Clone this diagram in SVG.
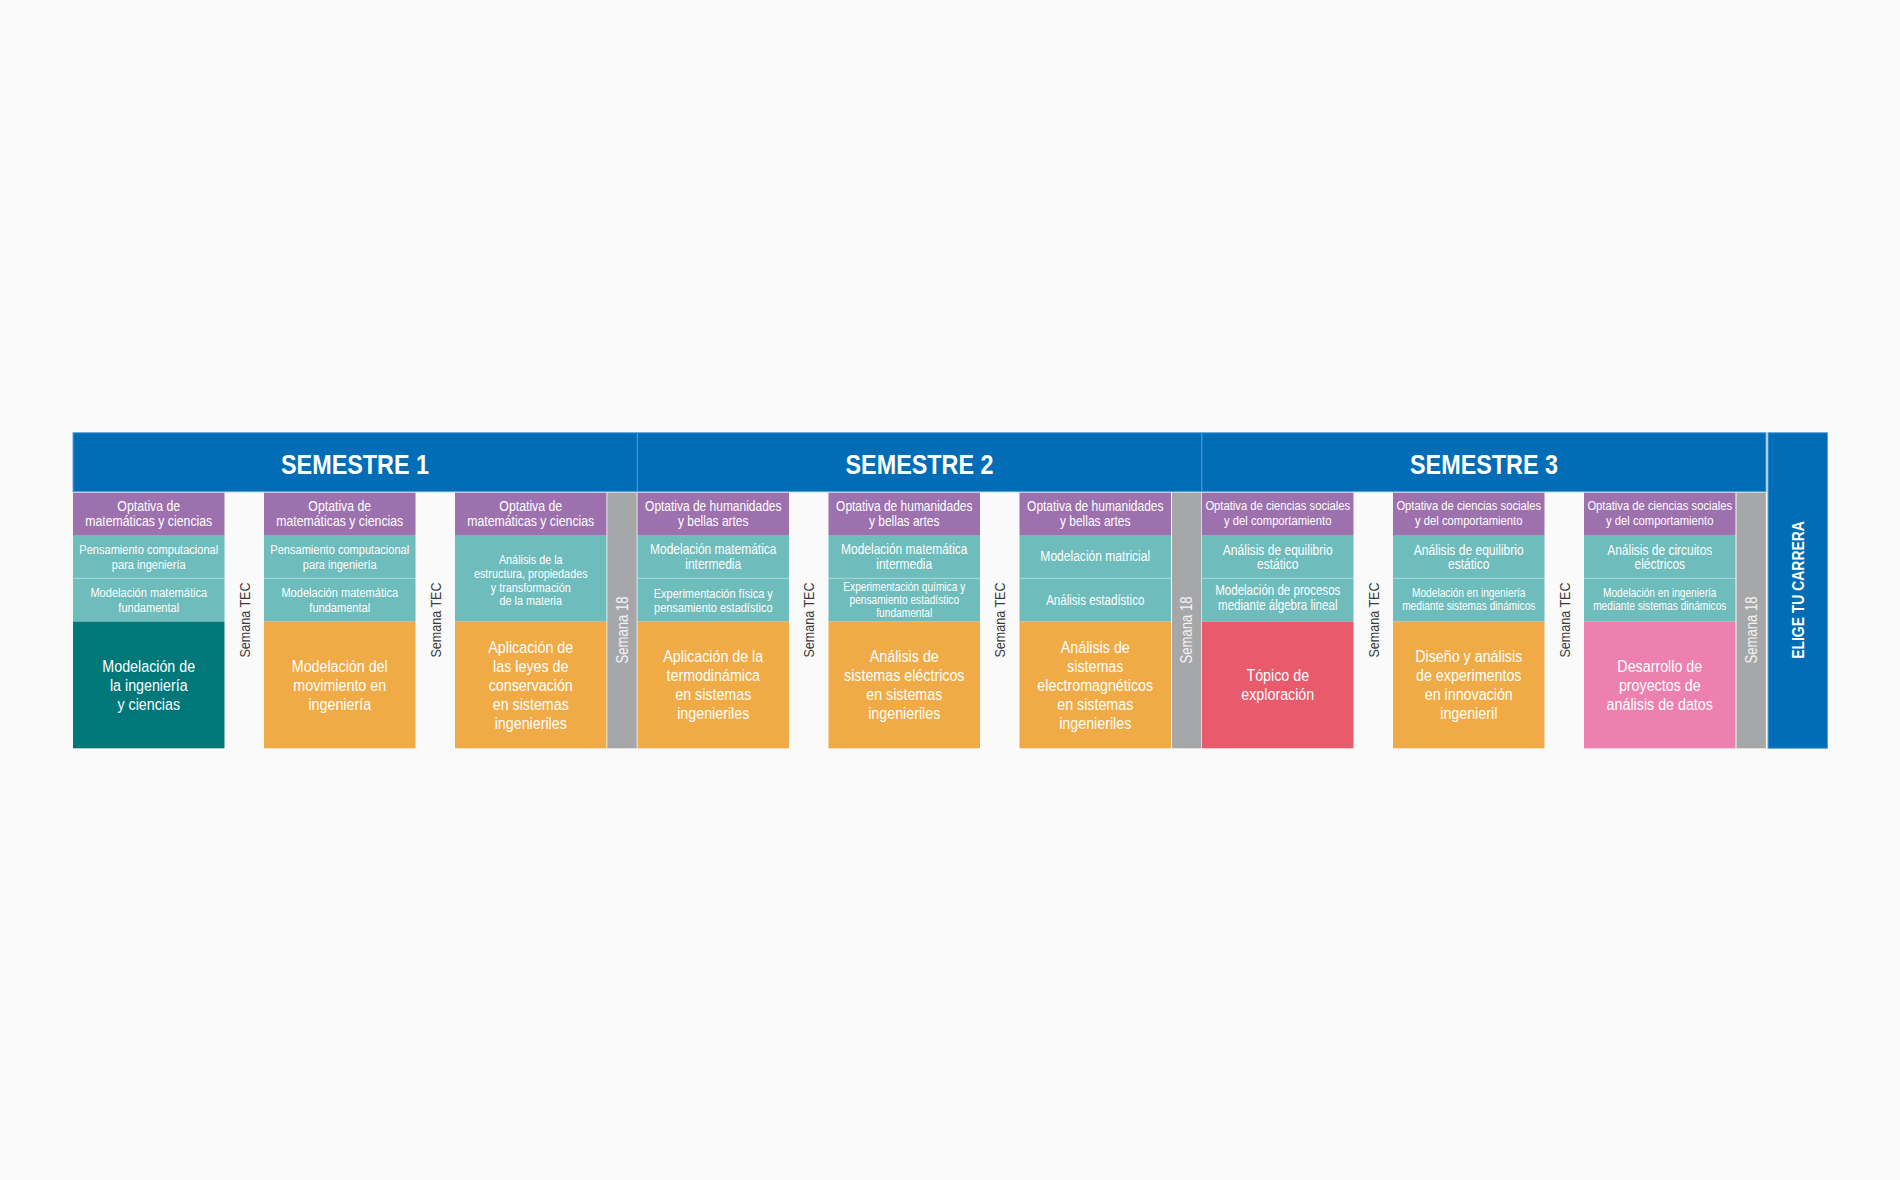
<svg xmlns="http://www.w3.org/2000/svg" width="1900" height="1180" viewBox="0 0 1900 1180">
<style>
text{font-family:'Liberation Sans',Arial,sans-serif;text-anchor:middle;fill:#ffffff}
.hd{font-weight:bold;font-size:28.5px}
.el{font-weight:bold;font-size:17px}
.pu{fill:#9d71ae}
.te{fill:#6ebcbc}
.or{fill:#f0ab46}
.dk{fill:#00787a}
.rd{fill:#e95a6d}
.pk{fill:#ee80b0}
.gy{fill:#a6a7a9}
.bl{fill:#006db6}
.sep{stroke:#ffffff;stroke-opacity:0.45;stroke-width:1}
.p15{font-size:15px}
.p146{font-size:14.6px}
.p137{font-size:13.7px}
.t135{font-size:13.5px}
.t132{font-size:13.2px}
.t146{font-size:14.6px}
.t134{font-size:13.4px}
.t124{font-size:12.4px}
.t148{font-size:14.7px}
.t141{font-size:14.1px}
.m{font-size:17.4px}
.tec{font-size:15.3px;fill:#3a3a3a}
.s18{font-size:16px;fill:#f4f4f4}
</style>
<rect x="0" y="0" width="1900" height="1180" fill="#fafafa"/>

<g id="headers">
<rect class="bl" x="73" y="432.7" width="1693" height="59" stroke="#5aa3d8" stroke-width="1"/>
<line x1="637.3" y1="432.7" x2="637.3" y2="491.7" stroke="#5aa3d8" stroke-width="1"/>
<line x1="1201.8" y1="432.7" x2="1201.8" y2="491.7" stroke="#5aa3d8" stroke-width="1"/>
<text class="hd" transform="matrix(.82 0 0 1 355 474)">SEMESTRE 1</text>
<text class="hd" transform="matrix(.82 0 0 1 919.5 474)">SEMESTRE 2</text>
<text class="hd" transform="matrix(.82 0 0 1 1484 474)">SEMESTRE 3</text>
</g>

<g id="elige">
<rect class="bl" x="1768" y="432.7" width="59.5" height="315.6" stroke="#5aa3d8" stroke-width="1"/>
<text class="el" transform="translate(1797.75,590) rotate(-90) scale(.82,1)" y="6.1">ELIGE TU CARRERA</text>
</g>

<g id="semana18">
<rect class="gy" x="607.3" y="492.7" width="29.4" height="255.6"/>
<rect class="gy" x="1172" y="492.7" width="29.4" height="255.6"/>
<rect class="gy" x="1736.5" y="492.7" width="29.4" height="255.6"/>
<text class="s18" transform="translate(622,630) rotate(-90) scale(.82,1)" y="5.7">Semana 18</text>
<text class="s18" transform="translate(1186.7,630) rotate(-90) scale(.82,1)" y="5.7">Semana 18</text>
<text class="s18" transform="translate(1751.2,630) rotate(-90) scale(.82,1)" y="5.7">Semana 18</text>
</g>

<g id="semanatec">
<text class="tec" transform="translate(244.5,620) rotate(-90) scale(.82,1)" y="5">Semana TEC</text>
<text class="tec" transform="translate(435.5,620) rotate(-90) scale(.82,1)" y="5">Semana TEC</text>
<text class="tec" transform="translate(809,620) rotate(-90) scale(.82,1)" y="5">Semana TEC</text>
<text class="tec" transform="translate(1000,620) rotate(-90) scale(.82,1)" y="5">Semana TEC</text>
<text class="tec" transform="translate(1373.5,620) rotate(-90) scale(.82,1)" y="5">Semana TEC</text>
<text class="tec" transform="translate(1564.5,620) rotate(-90) scale(.82,1)" y="5">Semana TEC</text>
</g>

<g id="col1">
<rect class="pu" x="73" y="492.7" width="151.5" height="42.3"/>
<rect class="te" x="73" y="535" width="151.5" height="86.6"/>
<rect class="dk" x="73" y="621.6" width="151.5" height="126.7"/>
<line class="sep" x1="73" y1="578.3" x2="224.5" y2="578.3"/>
<g transform="matrix(.82 0 0 1 148.75 0)">
<text class="p15"><tspan x="0" y="511">Optativa de</tspan><tspan x="0" y="526.5">matemáticas y ciencias</tspan></text>
<text class="t135"><tspan x="0" y="554.5">Pensamiento computacional</tspan><tspan x="0" y="568.8">para ingeniería</tspan></text>
<text class="t135"><tspan x="0" y="597.5">Modelación matemática</tspan><tspan x="0" y="611.7">fundamental</tspan></text>
<text class="m"><tspan x="0" y="672">Modelación de</tspan><tspan x="0" y="691">la ingeniería</tspan><tspan x="0" y="710">y ciencias</tspan></text>
</g>
</g>

<g id="col2">
<rect class="pu" x="264" y="492.7" width="151.5" height="42.3"/>
<rect class="te" x="264" y="535" width="151.5" height="86.6"/>
<rect class="or" x="264" y="621.6" width="151.5" height="126.7"/>
<line class="sep" x1="264" y1="578.3" x2="415.5" y2="578.3"/>
<g transform="matrix(.82 0 0 1 339.75 0)">
<text class="p15"><tspan x="0" y="511">Optativa de</tspan><tspan x="0" y="526.5">matemáticas y ciencias</tspan></text>
<text class="t135"><tspan x="0" y="554.5">Pensamiento computacional</tspan><tspan x="0" y="568.8">para ingeniería</tspan></text>
<text class="t135"><tspan x="0" y="597.5">Modelación matemática</tspan><tspan x="0" y="611.7">fundamental</tspan></text>
<text class="m"><tspan x="0" y="672">Modelación del</tspan><tspan x="0" y="691">movimiento en</tspan><tspan x="0" y="710">ingeniería</tspan></text>
</g>
</g>

<g id="col3">
<rect class="pu" x="455" y="492.7" width="151.5" height="42.3"/>
<rect class="te" x="455" y="535" width="151.5" height="86.6"/>
<rect class="or" x="455" y="621.6" width="151.5" height="126.7"/>
<g transform="matrix(.82 0 0 1 530.75 0)">
<text class="p15"><tspan x="0" y="511">Optativa de</tspan><tspan x="0" y="526.5">matemáticas y ciencias</tspan></text>
<text class="t132"><tspan x="0" y="564">Análisis de la</tspan><tspan x="0" y="577.8">estructura, propiedades</tspan><tspan x="0" y="591.6">y transformación</tspan><tspan x="0" y="605.4">de la materia</tspan></text>
<text class="m"><tspan x="0" y="653">Aplicación de</tspan><tspan x="0" y="672">las leyes de</tspan><tspan x="0" y="691">conservación</tspan><tspan x="0" y="710">en sistemas</tspan><tspan x="0" y="729">ingenieriles</tspan></text>
</g>
</g>

<g id="col4">
<rect class="pu" x="637.5" y="492.7" width="151.5" height="42.3"/>
<rect class="te" x="637.5" y="535" width="151.5" height="86.6"/>
<rect class="or" x="637.5" y="621.6" width="151.5" height="126.7"/>
<line class="sep" x1="637.5" y1="578.3" x2="789" y2="578.3"/>
<g transform="matrix(.82 0 0 1 713.25 0)">
<text class="p146"><tspan x="0" y="511">Optativa de humanidades</tspan><tspan x="0" y="526.5">y bellas artes</tspan></text>
<text class="t146"><tspan x="0" y="554.5">Modelación matemática</tspan><tspan x="0" y="568.8">intermedia</tspan></text>
<text class="t134"><tspan x="0" y="598">Experimentación física y</tspan><tspan x="0" y="612">pensamiento estadístico</tspan></text>
<text class="m"><tspan x="0" y="662.5">Aplicación de la</tspan><tspan x="0" y="681.5">termodinámica</tspan><tspan x="0" y="700.5">en sistemas</tspan><tspan x="0" y="719.5">ingenieriles</tspan></text>
</g>
</g>

<g id="col5">
<rect class="pu" x="828.5" y="492.7" width="151.5" height="42.3"/>
<rect class="te" x="828.5" y="535" width="151.5" height="86.6"/>
<rect class="or" x="828.5" y="621.6" width="151.5" height="126.7"/>
<line class="sep" x1="828.5" y1="578.3" x2="980" y2="578.3"/>
<g transform="matrix(.82 0 0 1 904.25 0)">
<text class="p146"><tspan x="0" y="511">Optativa de humanidades</tspan><tspan x="0" y="526.5">y bellas artes</tspan></text>
<text class="t146"><tspan x="0" y="554.5">Modelación matemática</tspan><tspan x="0" y="568.8">intermedia</tspan></text>
<text class="t124"><tspan x="0" y="591">Experimentación química y</tspan><tspan x="0" y="604">pensamiento estadístico</tspan><tspan x="0" y="617">fundamental</tspan></text>
<text class="m"><tspan x="0" y="662.5">Análisis de</tspan><tspan x="0" y="681.5">sistemas eléctricos</tspan><tspan x="0" y="700.5">en sistemas</tspan><tspan x="0" y="719.5">ingenieriles</tspan></text>
</g>
</g>

<g id="col6">
<rect class="pu" x="1019.5" y="492.7" width="151.5" height="42.3"/>
<rect class="te" x="1019.5" y="535" width="151.5" height="86.6"/>
<rect class="or" x="1019.5" y="621.6" width="151.5" height="126.7"/>
<line class="sep" x1="1019.5" y1="578.3" x2="1171" y2="578.3"/>
<g transform="matrix(.82 0 0 1 1095.25 0)">
<text class="p146"><tspan x="0" y="511">Optativa de humanidades</tspan><tspan x="0" y="526.5">y bellas artes</tspan></text>
<text class="t148" x="0" y="561.5">Modelación matricial</text>
<text class="t141" x="0" y="605">Análisis estadístico</text>
<text class="m"><tspan x="0" y="653">Análisis de</tspan><tspan x="0" y="672">sistemas</tspan><tspan x="0" y="691">electromagnéticos</tspan><tspan x="0" y="710">en sistemas</tspan><tspan x="0" y="729">ingenieriles</tspan></text>
</g>
</g>

<g id="col7">
<rect class="pu" x="1202" y="492.7" width="151.5" height="42.3"/>
<rect class="te" x="1202" y="535" width="151.5" height="86.6"/>
<rect class="rd" x="1202" y="621.6" width="151.5" height="126.7"/>
<line class="sep" x1="1202" y1="578.3" x2="1353.5" y2="578.3"/>
<g transform="matrix(.82 0 0 1 1277.75 0)">
<text class="p137"><tspan x="0" y="510.5">Optativa de ciencias sociales</tspan><tspan x="0" y="525.5">y del comportamiento</tspan></text>
<text class="t148"><tspan x="0" y="555">Análisis de equilibrio</tspan><tspan x="0" y="569.3">estático</tspan></text>
<text class="t141"><tspan x="0" y="595.5">Modelación de procesos</tspan><tspan x="0" y="610">mediante álgebra lineal</tspan></text>
<text class="m"><tspan x="0" y="681.5">Tópico de</tspan><tspan x="0" y="700.5">exploración</tspan></text>
</g>
</g>

<g id="col8">
<rect class="pu" x="1393" y="492.7" width="151.5" height="42.3"/>
<rect class="te" x="1393" y="535" width="151.5" height="86.6"/>
<rect class="or" x="1393" y="621.6" width="151.5" height="126.7"/>
<line class="sep" x1="1393" y1="578.3" x2="1544.5" y2="578.3"/>
<g transform="matrix(.82 0 0 1 1468.75 0)">
<text class="p137"><tspan x="0" y="510.5">Optativa de ciencias sociales</tspan><tspan x="0" y="525.5">y del comportamiento</tspan></text>
<text class="t148"><tspan x="0" y="555">Análisis de equilibrio</tspan><tspan x="0" y="569.3">estático</tspan></text>
<text class="t124"><tspan x="0" y="597">Modelación en ingeniería</tspan><tspan x="0" y="609.7">mediante sistemas dinámicos</tspan></text>
<text class="m"><tspan x="0" y="662.5">Diseño y análisis</tspan><tspan x="0" y="681.5">de experimentos</tspan><tspan x="0" y="700.5">en innovación</tspan><tspan x="0" y="719.5">ingenieril</tspan></text>
</g>
</g>

<g id="col9">
<rect class="pu" x="1584" y="492.7" width="151.5" height="42.3"/>
<rect class="te" x="1584" y="535" width="151.5" height="86.6"/>
<rect class="pk" x="1584" y="621.6" width="151.5" height="126.7"/>
<line class="sep" x1="1584" y1="578.3" x2="1735.5" y2="578.3"/>
<g transform="matrix(.82 0 0 1 1659.75 0)">
<text class="p137"><tspan x="0" y="510.5">Optativa de ciencias sociales</tspan><tspan x="0" y="525.5">y del comportamiento</tspan></text>
<text class="t146"><tspan x="0" y="555">Análisis de circuitos</tspan><tspan x="0" y="569.3">eléctricos</tspan></text>
<text class="t124"><tspan x="0" y="597">Modelación en ingeniería</tspan><tspan x="0" y="609.7">mediante sistemas dinámicos</tspan></text>
<text class="m"><tspan x="0" y="672">Desarrollo de</tspan><tspan x="0" y="691">proyectos de</tspan><tspan x="0" y="710">análisis de datos</tspan></text>
</g>
</g>
</svg>
